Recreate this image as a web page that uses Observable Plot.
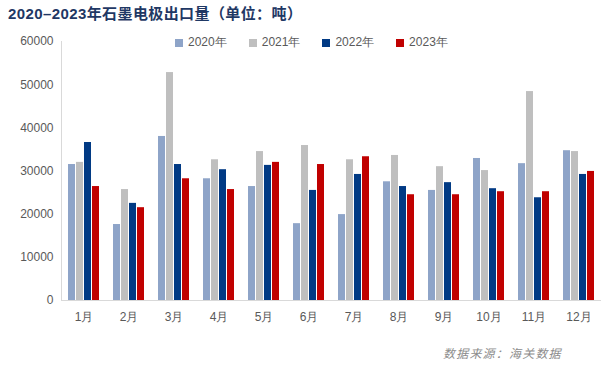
<!DOCTYPE html>
<html>
<head>
<meta charset="utf-8">
<script src="https://cdn.jsdelivr.net/npm/d3@7"></script>
<script src="https://cdn.jsdelivr.net/npm/@observablehq/plot@0.6"></script>
<style>
  body { margin: 0; background: #fff; }
  #wrap { position: relative; width: 607px; height: 369px; overflow: hidden; font-family: "Liberation Sans", Arial, sans-serif; }
  #title { position: absolute; left: 8px; top: 2px; font: bold 15px "Liberation Sans", "Noto Sans CJK SC", sans-serif; letter-spacing: 0.4px; color: #1F3864; white-space: nowrap; }
  #legend { position: absolute; left: 175px; top: 34px; display: flex; font-size: 12px; color: #595959; }
  #legend .item { display: flex; align-items: center; margin-right: 22px; }
  #legend .sw { width: 8px; height: 8px; margin-right: 5px; }
  #caption { position: absolute; left: 443px; top: 344px; font: italic 12px "Noto Sans CJK SC", sans-serif; color: #8C8C8C; letter-spacing: 1.2px; white-space: nowrap; }
  #chart { position: absolute; left: 0; top: 0; }
</style>
</head>
<body>
<div id="wrap">
  <div id="chart"></div>
  <div id="title">2020–2023年石墨电极出口量（单位：吨）</div>
  <div id="legend"></div>
  <div id="caption">数据来源：海关数据</div>
</div>
<script>
const months = ["1月","2月","3月","4月","5月","6月","7月","8月","9月","10月","11月","12月"];
const years = ["2020年","2021年","2022年","2023年"];
const v2020 = [31500, 17600, 38000, 28200, 26400, 17800, 19900, 27500, 25500, 32900, 31700, 34700];
const v2021 = [32000, 25700, 52800, 32600, 34500, 35900, 32600, 33600, 31000, 30100, 48400, 34500];
const v2022 = [36600, 22500, 31500, 30300, 31300, 25500, 29200, 26400, 27300, 25900, 23800, 29200];
const v2023 = [26400, 21500, 28200, 25700, 32000, 31500, 33300, 24500, 24500, 25200, 25200, 29900];
const yTicks = [0, 10000, 20000, 30000, 40000, 50000, 60000];
const colors = ["#8EA4C8", "#BFBFBF", "#013A84", "#C00000"];

const series = [v2020, v2021, v2022, v2023];
const data = [];
months.forEach((m, i) => years.forEach((y, j) => data.push({month: m, year: y, value: series[j][i]})));

const chart = Plot.plot({
  width: 607,
  height: 369,
  marginLeft: 58,
  marginRight: 3,
  marginTop: 41,
  marginBottom: 69,
  style: {fontFamily: "Liberation Sans, Arial, sans-serif", fontSize: "12px", color: "#595959", background: "transparent"},
  fx: {domain: months, padding: 0, label: null, tickSize: 0, tickPadding: 12},
  x: {domain: years, axis: null, paddingInner: 0.15, paddingOuter: 0.78},
  y: {domain: [0, 60000], ticks: yTicks, tickSize: 0, tickPadding: 8, label: null, tickFormat: d3.format("d")},
  color: {domain: years, range: colors},
  marks: [
    Plot.barY(data, {fx: "month", x: "year", y: "value", fill: "year"}),
    Plot.ruleY([0], {stroke: "#D9D9D9", strokeWidth: 1}),
    Plot.frame({anchor: "left", stroke: "#D9D9D9", facetAnchor: "left"})
  ]
});
document.getElementById("chart").appendChild(chart);

const legend = document.getElementById("legend");
years.forEach((y, j) => {
  const it = document.createElement("div");
  it.className = "item";
  const sw = document.createElement("span");
  sw.className = "sw";
  sw.style.background = colors[j];
  const t = document.createElement("span");
  t.textContent = y;
  it.appendChild(sw); it.appendChild(t);
  legend.appendChild(it);
});
</script>
</body>
</html>
